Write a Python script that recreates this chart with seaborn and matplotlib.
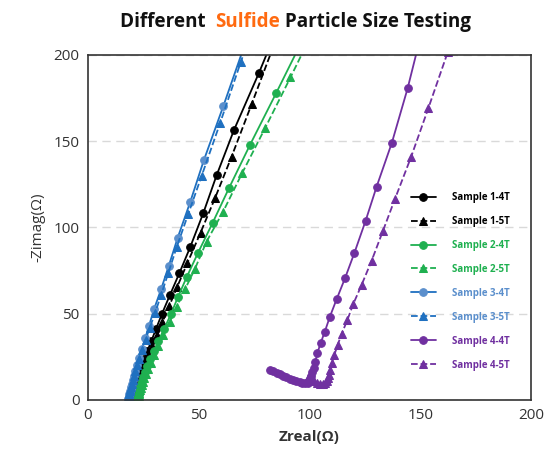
import matplotlib
matplotlib.use("Agg")
import matplotlib.pyplot as plt
import seaborn as sns
import pandas as pd

# Nyquist data (Zreal, -Zimag)
s1_4t_x = [20.2, 20.3, 20.4, 20.5, 20.6, 20.7, 20.9, 21.1, 21.4, 21.8, 22.2, 22.8, 23.5, 24.3, 25.4, 26.8, 28.6, 30.7, 33.3, 37.0, 41.2, 46.1, 52.0, 58.1, 65.9, 77.2, 89.5]
s1_4t_y = [0.5, 1.1, 1.8, 2.6, 3.4, 4.3, 5.3, 6.4, 7.7, 9.3, 11.2, 13.5, 16.3, 19.6, 23.6, 28.4, 34.2, 41.2, 49.7, 60.9, 73.4, 88.5, 108.2, 130.4, 156.5, 189.7, 228]
s1_5t_x = [20.2, 20.3, 20.4, 20.5, 20.6, 20.7, 20.9, 21.2, 21.5, 21.9, 22.4, 23.0, 23.8, 24.7, 25.8, 27.2, 28.9, 31.0, 33.6, 36.7, 40.3, 44.8, 50.8, 57.3, 64.8, 73.9, 84.0]
s1_5t_y = [0.3, 0.9, 1.6, 2.3, 3.1, 3.9, 4.8, 5.8, 7.0, 8.5, 10.2, 12.3, 14.8, 17.8, 21.4, 25.8, 31.1, 37.5, 45.2, 54.5, 65.7, 79.2, 97, 116.9, 141, 171.6, 206]
s2_4t_x = [22.4, 22.5, 22.6, 22.7, 22.8, 22.9, 23.0, 23.2, 23.4, 23.8, 24.2, 24.8, 25.6, 26.7, 28.0, 29.7, 31.8, 34.4, 37.4, 40.7, 44.5, 49.7, 56.3, 63.6, 73.1, 84.9, 98.5]
s2_4t_y = [0.5, 1.1, 1.8, 2.6, 3.4, 4.3, 5.3, 6.4, 7.7, 9.3, 11.2, 13.5, 16.3, 19.6, 23.6, 28.5, 34.3, 41.3, 49.7, 59.9, 71.1, 85.4, 102.8, 122.7, 147.8, 177.8, 213]
s2_5t_x = [22.5, 22.6, 22.7, 22.8, 22.9, 23.0, 23.2, 23.5, 23.8, 24.2, 24.7, 25.3, 26.1, 27.1, 28.3, 29.8, 31.7, 34.0, 36.8, 40.0, 43.8, 48.2, 53.5, 61.0, 69.7, 79.9, 91.4, 105.5]
s2_5t_y = [0.5, 1.1, 1.8, 2.5, 3.3, 4.1, 5.0, 6.0, 7.2, 8.7, 10.4, 12.5, 15, 18, 21.6, 26, 31.2, 37.5, 45, 54.1, 64.2, 75.8, 91.8, 109.2, 131.8, 157.5, 187, 224]
s3_4t_x = [18.1, 18.2, 18.3, 18.4, 18.5, 18.6, 18.8, 19.0, 19.2, 19.5, 19.9, 20.3, 20.8, 21.4, 22.2, 23.2, 24.4, 25.8, 27.5, 29.8, 33.0, 36.5, 40.5, 46.1, 52.3, 61.1, 71.3]
s3_4t_y = [0.3, 0.7, 1.2, 1.8, 2.5, 3.3, 4.2, 5.2, 6.4, 7.8, 9.5, 11.5, 13.9, 16.8, 20.3, 24.5, 29.5, 35.7, 42.9, 52.6, 64.2, 77.9, 94.1, 114.6, 139, 170.4, 208]
s3_5t_x = [18.1, 18.2, 18.3, 18.4, 18.5, 18.7, 18.9, 19.1, 19.4, 19.7, 20.1, 20.6, 21.3, 22.1, 23.1, 24.4, 26.0, 27.9, 30.3, 33.0, 36.2, 40.0, 45.3, 51.3, 59.6, 69.0, 79.5]
s3_5t_y = [0.4, 1.0, 1.7, 2.5, 3.3, 4.2, 5.2, 6.4, 7.8, 9.4, 11.4, 13.8, 16.6, 20, 24, 29, 35, 42, 50.5, 61, 73.4, 88.5, 108, 129.9, 160.4, 196, 235]
s4_4t_x = [82.2, 83.6, 85.1, 86.6, 88.1, 89.6, 91.1, 92.6, 94.1, 95.5, 96.8, 98.0, 99.1, 99.9, 100.4, 100.8, 101.3, 101.9, 102.6, 103.5, 105.0, 106.9, 109.2, 112.2, 116.0, 120.3, 125.3, 130.3, 137.2, 144.3, 150.0]
s4_4t_y = [17.4, 16.7, 15.9, 15.0, 14.1, 13.2, 12.4, 11.6, 10.9, 10.3, 9.8, 9.6, 9.9, 10.8, 12.2, 13.9, 16.0, 18.6, 22.2, 27, 32.9, 39.6, 48.3, 58.3, 70.5, 85.4, 103.8, 123.7, 149.2, 180.7, 210]
s4_5t_x = [99.5, 100.8, 102.2, 103.6, 104.9, 106.1, 107.0, 107.7, 108.2, 108.7, 109.3, 110.0, 111.2, 112.7, 114.5, 117.1, 119.7, 123.5, 128.0, 133.2, 138.5, 145.8, 153.6, 162.5]
s4_5t_y = [13, 11.8, 10.8, 10.0, 9.5, 9.4, 9.9, 11.0, 12.6, 14.6, 17.2, 21.3, 26.1, 31.9, 38.3, 46.4, 55.5, 66.7, 80.6, 98.2, 116.3, 140.7, 169, 202]

labels = ["Sample 1-4T", "Sample 1-5T", "Sample 2-4T", "Sample 2-5T",
          "Sample 3-4T", "Sample 3-5T", "Sample 4-4T", "Sample 4-5T"]
xs = [s1_4t_x, s1_5t_x, s2_4t_x, s2_5t_x, s3_4t_x, s3_5t_x, s4_4t_x, s4_5t_x]
ys = [s1_4t_y, s1_5t_y, s2_4t_y, s2_5t_y, s3_4t_y, s3_5t_y, s4_4t_y, s4_5t_y]
line_colors = ["#000000", "#000000", "#1fb050", "#1fb050", "#1f70c0", "#1f70c0", "#7030a0", "#7030a0"]
marker_colors = ["#000000", "#000000", "#1fb050", "#1fb050", "#5b8fcc", "#1f70c0", "#7030a0", "#7030a0"]
text_colors = ["#000000", "#000000", "#1fb050", "#1fb050", "#5b8fcc", "#5b8fcc", "#7030a0", "#7030a0"]
markers = ["o", "^"] * 4
styles = ["-", "--"] * 4

sns.set_theme(style="white")
plt.rcParams["font.family"] = ["Open Sans", "DejaVu Sans"]

fig = plt.figure(figsize=(5.5, 4.53), dpi=100)
ax = fig.add_axes([0.16, 0.117, 0.8055, 0.7616])

for i in range(8):
    df = pd.DataFrame({"x": xs[i], "y": ys[i]})
    sns.lineplot(data=df, x="x", y="y", ax=ax, sort=False, estimator=None,
                 color=line_colors[i], marker=markers[i], markersize=5.5,
                 markerfacecolor=marker_colors[i], markeredgecolor=marker_colors[i],
                 linewidth=1.3, label=labels[i],
                 linestyle=styles[i], dashes=(4, 2.5) if styles[i] == "--" else (None, None))

ax.set_xlim(0, 200)
ax.set_ylim(0, 200)
ax.set_xticks([0, 50, 100, 150, 200])
ax.set_yticks([0, 50, 100, 150, 200])
ax.yaxis.grid(True, linestyle=(0, (6, 4)), color="#d9d9d9", linewidth=1)
ax.xaxis.grid(False)
ax.tick_params(axis="both", labelsize=11, colors="#333333", length=0, pad=6)
for sp in ax.spines.values():
    sp.set_color("#333333")
    sp.set_linewidth(1.2)

ax.set_xlabel("Zreal(Ω)", fontsize=11, fontweight="bold", color="#333333", labelpad=5)
ax.set_ylabel("-Zimag(Ω)", fontsize=11, color="#333333", labelpad=6)

leg = ax.legend(loc="upper left", bbox_to_anchor=(0.709, 0.628), frameon=False,
                prop={"size": 7, "weight": "bold"}, labelspacing=1.33,
                handlelength=2.6, handletextpad=1.6, labelcolor=text_colors)

# multicolour title, scaled so it spans the same width as the reference
parts = [("Different  ", "#111111"), ("Sulfide", "#ff6a10"), (" Particle Size Testing", "#111111")]
texts = [fig.text(0, 0.951, p, color=c, fontsize=12.5, fontweight="bold", va="center")
         for p, c in parts]
fig.canvas.draw()
r = fig.canvas.get_renderer()
total = sum(t.get_window_extent(r).width for t in texts)
for t in texts:
    t.set_fontsize(12.5 * 352 / total)
fig.canvas.draw()
widths = [t.get_window_extent(r).width / fig.bbox.width for t in texts]
x0 = 0.537 - sum(widths) / 2
for t, w in zip(texts, widths):
    t.set_x(x0)
    x0 += w

fig.savefig("out.png", dpi=100)
